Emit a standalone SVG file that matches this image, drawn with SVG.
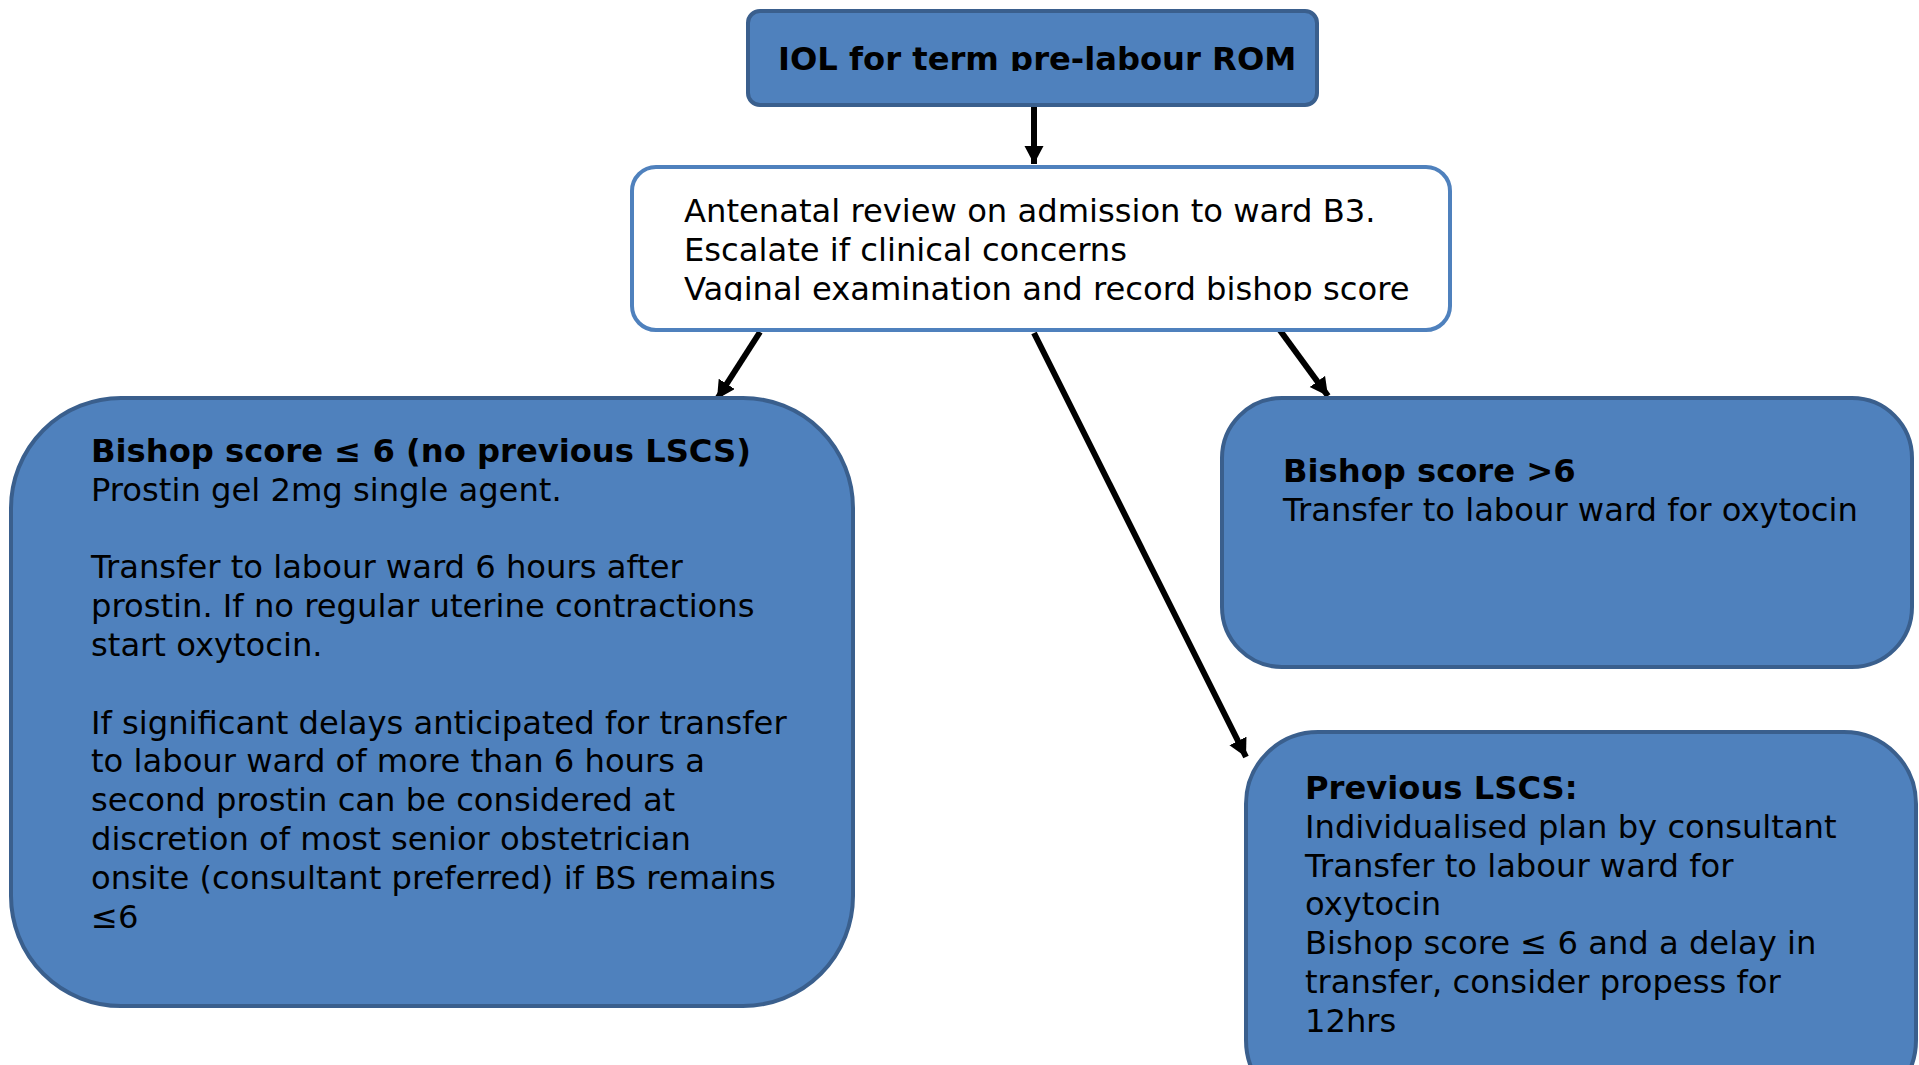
<svg xmlns="http://www.w3.org/2000/svg" width="1919" height="1065" viewBox="0 0 1919 1065">
<style>
.box{fill:#4F81BD;stroke:#3A5F8D;stroke-width:4}
.wbox{fill:#FFFFFF;stroke:#4F81BD;stroke-width:4}
.t{font-family:"DejaVu Sans",Verdana,sans-serif;font-size:32.2px;fill:#000}
.b{font-weight:bold}
.conn{stroke:#000;stroke-width:6;fill:none}
</style>
<defs>
<marker id="ah" markerUnits="userSpaceOnUse" markerWidth="20" markerHeight="20" refX="18" refY="9.5" orient="auto">
<path d="M0,0 L18,9.5 L0,19 z" fill="#000"/>
</marker>
<clipPath id="c1"><rect x="748" y="11" width="570" height="60"/></clipPath>
<clipPath id="c2"><rect x="632" y="166" width="818" height="135"/></clipPath>
</defs>
<rect width="1919" height="1065" fill="#FFFFFF"/>
<g id="connectors">
<line class="conn" x1="1034" y1="105" x2="1034" y2="164" marker-end="url(#ah)"/>
<line class="conn" x1="760" y1="332" x2="717" y2="399" marker-end="url(#ah)"/>
<line class="conn" x1="1034" y1="333" x2="1246" y2="757" marker-end="url(#ah)"/>
<line class="conn" x1="1279" y1="329" x2="1328" y2="396" marker-end="url(#ah)"/>
</g>
<g id="node-top">
<rect class="box" x="748" y="11" width="569" height="94" rx="12"/>
<text class="t b" x="778" y="70" clip-path="url(#c1)">IOL for term pre-labour ROM</text>
</g>
<g id="node-review">
<rect class="wbox" x="632" y="167" width="818" height="163" rx="24"/>
<g clip-path="url(#c2)">
<text class="t" x="684" y="222">Antenatal review on admission to ward B3.</text>
<text class="t" x="684" y="261">Escalate if clinical concerns</text>
<text class="t" x="684" y="300">Vaginal examination and record bishop score</text>
</g>
</g>
<g id="node-low">
<rect class="box" x="11" y="398" width="842" height="608" rx="110"/>
<text class="t" x="91" y="462"><tspan class="b">Bishop score ≤ 6 (no previous LSCS)</tspan>
<tspan x="91" dy="38.8">Prostin gel 2mg single agent.</tspan>
<tspan x="91" dy="77.6">Transfer to labour ward 6 hours after</tspan>
<tspan x="91" dy="38.8">prostin. If no regular uterine contractions</tspan>
<tspan x="91" dy="38.8">start oxytocin.</tspan>
<tspan x="91" dy="77.6">If significant delays anticipated for transfer</tspan>
<tspan x="91" dy="38.8">to labour ward of more than 6 hours a</tspan>
<tspan x="91" dy="38.8">second prostin can be considered at</tspan>
<tspan x="91" dy="38.8">discretion of most senior obstetrician</tspan>
<tspan x="91" dy="38.8">onsite (consultant preferred) if BS remains</tspan>
<tspan x="91" dy="38.8">≤6</tspan></text>
</g>
<g id="node-high">
<rect class="box" x="1222" y="398" width="690" height="269" rx="60"/>
<text class="t" x="1283" y="482"><tspan class="b">Bishop score &gt;6</tspan>
<tspan x="1283" dy="38.8">Transfer to labour ward for oxytocin</tspan></text>
</g>
<g id="node-lscs">
<rect class="box" x="1246" y="732" width="670" height="380" rx="72"/>
<text class="t" x="1305" y="799"><tspan class="b">Previous LSCS:</tspan>
<tspan x="1305" dy="38.8">Individualised plan by consultant</tspan>
<tspan x="1305" dy="38.8">Transfer to labour ward for</tspan>
<tspan x="1305" dy="38.8">oxytocin</tspan>
<tspan x="1305" dy="38.8">Bishop score ≤ 6 and a delay in</tspan>
<tspan x="1305" dy="38.8">transfer, consider propess for</tspan>
<tspan x="1305" dy="38.8">12hrs</tspan></text>
</g>
</svg>
